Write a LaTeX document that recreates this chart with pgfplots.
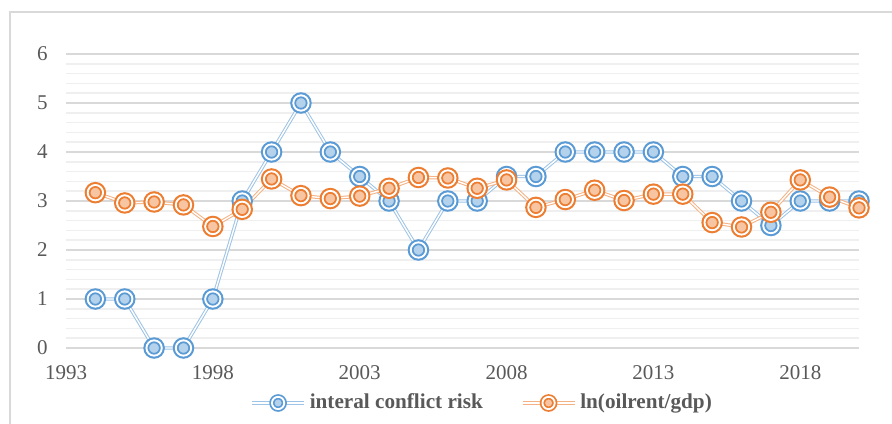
\documentclass[border=0pt]{standalone}
\usepackage{fontspec}
\setmainfont{Liberation Serif}
\usepackage{pgfplots}
\pgfplotsset{compat=1.18}
\definecolor{cblue}{HTML}{5B9BD5}
\definecolor{corange}{HTML}{ED7D31}
\definecolor{tgray}{HTML}{595959}
\definecolor{mgrid}{HTML}{D9D9D9}
\definecolor{ngrid}{HTML}{EFEFEF}
\pgfdeclareplotmark{dcirc}{%
  \pgfsetlinewidth{1.15pt}%
  \pgfpathcircle{\pgfpointorigin}{4.8pt}%
  \pgfusepathqfillstroke
  \pgfsetlinewidth{0.95pt}%
  \pgfpathcircle{\pgfpointorigin}{2.9pt}%
  \pgfusepathqstroke
  \begin{pgfscope}%
  \pgfsetstrokecolor{white}%
  \pgfsetlinewidth{0.9pt}%
  \pgfpathcircle{\pgfpointorigin}{3.85pt}%
  \pgfusepathqstroke
  \end{pgfscope}%
}
\pgfplotstableread{
year risk
1994 1
1995 1
1996 0
1997 0
1998 1
1999 3
2000 4
2001 5
2002 4
2003 3.5
2004 3
2005 2
2006 3
2007 3
2008 3.5
2009 3.5
2010 4
2011 4
2012 4
2013 4
2014 3.5
2015 3.5
2016 3
2017 2.5
2018 3
2019 3
2020 3
}\riskdata
\pgfplotstableread{
year oil
1994 3.17
1995 2.96
1996 2.98
1997 2.92
1998 2.48
1999 2.83
2000 3.45
2001 3.11
2002 3.05
2003 3.10
2004 3.26
2005 3.48
2006 3.47
2007 3.26
2008 3.43
2009 2.87
2010 3.03
2011 3.22
2012 3.01
2013 3.14
2014 3.14
2015 2.56
2016 2.47
2017 2.77
2018 3.43
2019 3.08
2020 2.86
}\oildata
\begin{document}
\begin{tikzpicture}
\useasboundingbox (-33pt,-37.5pt) rectangle (413pt,174pt);
\draw[draw=mgrid, line width=0.7pt] (-28pt,-45pt) -- (-28pt,168pt) -- (420pt,168pt);
\begin{axis}[
  at={(0pt,0pt)}, anchor=south west,
  scale only axis, width=396.5pt, height=147pt,
  xmin=1993, xmax=2020, ymin=0, ymax=6,
  xtick={1993,1998,2003,2008,2013,2018},
  ytick={0,1,2,3,4,5,6},
  minor y tick num=4,
  ymajorgrids, yminorgrids,
  major grid style={draw=mgrid, line width=0.75pt},
  minor grid style={draw=ngrid, line width=0.75pt},
  axis line style={draw=none},
  tick style={draw=none},
  major tick length=0pt, minor tick length=0pt,
  /pgf/number format/assume math mode=true,
  /pgf/number format/set thousands separator={},
  ticklabel style={font=\fontsize{10.5}{12}\selectfont, text=tgray},
  xticklabel style={inner sep=0pt, anchor=north, yshift=-8.5pt},
  yticklabel style={inner sep=0pt, anchor=east, xshift=-9pt},
  clip=false,
  legend columns=2,
  legend style={at={(0.526,-0.187)}, anchor=center, draw=none, fill=none,
    font=\bfseries\fontsize{10.6}{12}\selectfont, text=tgray,
    /tikz/every even column/.append style={column sep=17pt}},
  legend image code/.code={
    \draw[#1, mark repeat=2, mark phase=2, every mark/.append style={scale=0.8}]
      plot coordinates {(0pt,0pt) (13pt,0pt) (26pt,0pt)};
  },
]
\addplot[draw=cblue!60!white, line width=0.5pt, double=white, double distance=0.7pt,
  mark=dcirc, mark options={draw=cblue, fill=cblue!45!white, solid}]
  table[x=year, y=risk] {\riskdata};
\addlegendentry{interal conflict risk}
\addplot[draw=corange!60!white, line width=0.5pt, double=white, double distance=0.7pt,
  mark=dcirc, mark options={draw=corange, fill=corange!45!white, solid}]
  table[x=year, y=oil] {\oildata};
\addlegendentry{ln(oilrent/gdp)}
\end{axis}
\end{tikzpicture}
\end{document}
